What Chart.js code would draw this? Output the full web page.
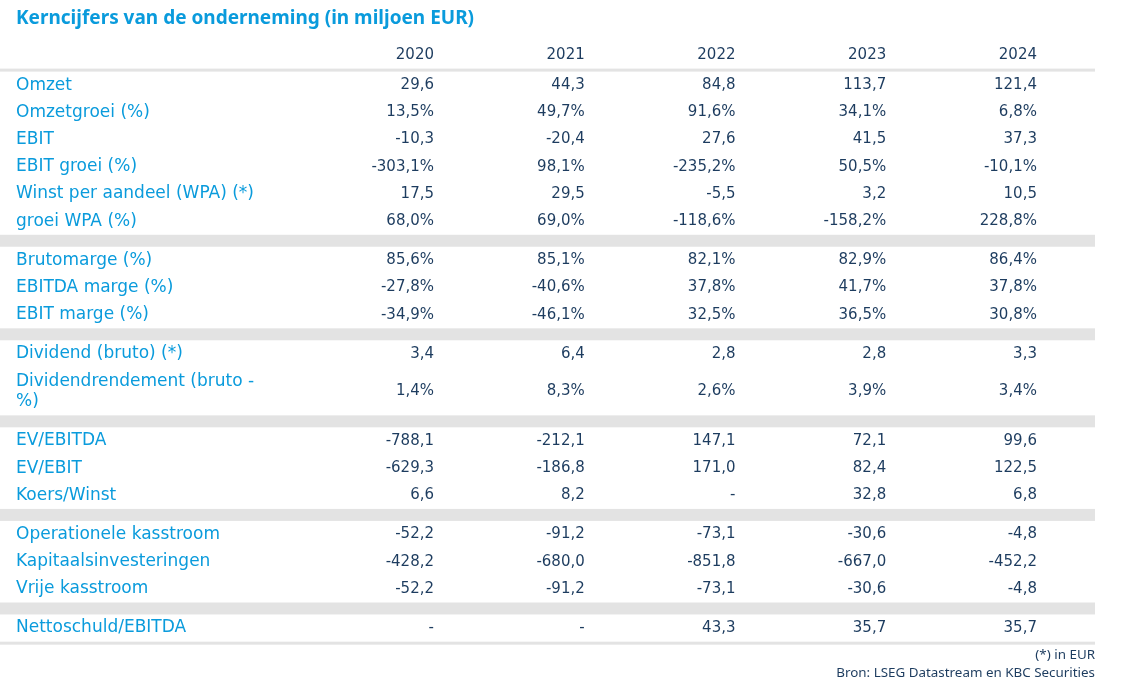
<!DOCTYPE html>
<html>
<head>
<meta charset="utf-8">
<script src="https://cdn.jsdelivr.net/npm/chart.js@4.4.1/dist/chart.umd.min.js"></script>
<style>
  html, body { margin: 0; padding: 0; background: #fff; }
  #fontwarm { position: absolute; left: -2000px; top: 0; }
  #fontwarm .t { font: bold 19px 'Noto Sans'; }
  #fontwarm .f { font: 13.4px 'Noto Sans'; }
  #fontwarm .d { font: 16px 'DejaVu Sans'; }
</style>
</head>
<body>
<canvas id="kerncijfers" width="1122" height="683"></canvas>
<div id="fontwarm"><span class="t">Kerncijfers</span><span class="f">Bron</span><span class="d">Omzet 2020</span></div>
<script>
// table content
var years = ['2020', '2021', '2022', '2023', '2024'];

var rowLabels = [
  'Omzet', 'Omzetgroei (%)', 'EBIT', 'EBIT groei (%)', 'Winst per aandeel (WPA) (*)', 'groei WPA (%)',
  'Brutomarge (%)', 'EBITDA marge (%)', 'EBIT marge (%)',
  'Dividend (bruto) (*)', 'Dividendrendement (bruto - %)',
  'EV/EBITDA', 'EV/EBIT', 'Koers/Winst',
  'Operationele kasstroom', 'Kapitaalsinvesteringen', 'Vrije kasstroom',
  'Nettoschuld/EBITDA'
];

// rows per block, blocks are split by a grey band
var sectionSizes = [6, 3, 2, 3, 3, 1];

var col2020 = ['29,6', '13,5%', '-10,3', '-303,1%', '17,5', '68,0%', '85,6%', '-27,8%', '-34,9%', '3,4', '1,4%', '-788,1', '-629,3', '6,6', '-52,2', '-428,2', '-52,2', '-'];
var col2021 = ['44,3', '49,7%', '-20,4', '98,1%', '29,5', '69,0%', '85,1%', '-40,6%', '-46,1%', '6,4', '8,3%', '-212,1', '-186,8', '8,2', '-91,2', '-680,0', '-91,2', '-'];
var col2022 = ['84,8', '91,6%', '27,6', '-235,2%', '-5,5', '-118,6%', '82,1%', '37,8%', '32,5%', '2,8', '2,6%', '147,1', '171,0', '-', '-73,1', '-851,8', '-73,1', '43,3'];
var col2023 = ['113,7', '34,1%', '41,5', '50,5%', '3,2', '-158,2%', '82,9%', '41,7%', '36,5%', '2,8', '3,9%', '72,1', '82,4', '32,8', '-30,6', '-667,0', '-30,6', '35,7'];
var col2024 = ['121,4', '6,8%', '37,3', '-10,1%', '10,5', '228,8%', '86,4%', '37,8%', '30,8%', '3,3', '3,4%', '99,6', '122,5', '6,8', '-4,8', '-452,2', '-4,8', '35,7'];

var columns = [col2020, col2021, col2022, col2023, col2024];

var BLUE = '#0a9bdc';
var NAVY = '#1d3c5f';
var GREY = '#e3e3e3';
var TITLE_FAMILY = "'Noto Sans'";
var FAMILY = "'DejaVu Sans'";
var LABEL_FONT = '17px ' + FAMILY;
var VALUE_FONT = '15px ' + FAMILY;

// row heights in "row units"
var HEADER_H = 1;
var RULE_H = 0.11;
var BAND_H = 0.44;
var LINE_EXTRA = 0.76;
var LABEL_WIDTH = 250;

// horizontal: year columns sit at 1..5 (right edge of the numbers)
var X_MIN = -1.773;
var X_MAX = 5.385;

function buildTable() {
  // wrap long labels like the source table does
  var measureCtx = document.createElement('canvas').getContext('2d');
  measureCtx.font = LABEL_FONT;
  function wrap(text, maxW) {
    var words = text.split(' ');
    var lines = [];
    var cur = '';
    words.forEach(function (w) {
      var test = cur ? cur + ' ' + w : w;
      if (cur && measureCtx.measureText(test).width > maxW) {
        lines.push(cur);
        cur = w;
      } else {
        cur = test;
      }
    });
    lines.push(cur);
    return lines;
  }
  var labelLines = rowLabels.map(function (l) { return wrap(l, LABEL_WIDTH); });

  // vertical layout
  var pos = 0;
  var headerY = pos + HEADER_H / 2;
  pos += HEADER_H;
  var rules = [[pos, pos + RULE_H]];
  pos += RULE_H;
  var bands = [];
  var rowY = [];
  var r = 0;
  sectionSizes.forEach(function (n, s) {
    if (s > 0) {
      bands.push([pos, pos + BAND_H]);
      pos += BAND_H;
    }
    for (var k = 0; k < n; k++, r++) {
      var h = 1 + (labelLines[r].length - 1) * LINE_EXTRA;
      rowY.push(pos + h / 2);
      pos += h;
    }
  });
  rules.push([pos, pos + RULE_H]);
  pos += RULE_H;
  var totalH = pos;

  var datasets = [];
  datasets.push({
    label: 'labels',
    data: rowY.map(function (y) { return { x: X_MIN, y: y }; }),
    cellText: labelLines,
    cellFont: LABEL_FONT,
    cellColor: BLUE,
    cellAlign: 'left'
  });
  datasets.push({
    label: 'header',
    data: years.map(function (yr, i) { return { x: i + 1, y: headerY }; }),
    cellText: years,
    cellFont: VALUE_FONT,
    cellColor: NAVY,
    cellAlign: 'right'
  });
  columns.forEach(function (col, i) {
    datasets.push({
      label: years[i],
      data: rowY.map(function (y) { return { x: i + 1, y: y }; }),
      cellText: col,
      cellFont: VALUE_FONT,
      cellColor: NAVY,
      cellAlign: 'right'
    });
  });
  datasets.forEach(function (d) {
    d.pointRadius = 0;
    d.pointHoverRadius = 0;
    d.showLine = false;
  });

  var bandsPlugin = {
    id: 'bands',
    beforeDatasetsDraw: function (chart) {
      var ctx = chart.ctx;
      var y = chart.scales.y;
      ctx.save();
      ctx.fillStyle = GREY;
      bands.concat(rules).forEach(function (b) {
        var top = y.getPixelForValue(b[0]);
        var bottom = y.getPixelForValue(b[1]);
        ctx.fillRect(0, top, chart.chartArea.right, bottom - top);
      });
      ctx.restore();
    }
  };

  var cellTextPlugin = {
    id: 'cellText',
    afterDatasetsDraw: function (chart) {
      var ctx = chart.ctx;
      var y = chart.scales.y;
      var lineGap = y.getPixelForValue(LINE_EXTRA) - y.getPixelForValue(0);
      ctx.save();
      ctx.textBaseline = 'middle';
      chart.data.datasets.forEach(function (ds, di) {
        var meta = chart.getDatasetMeta(di);
        ctx.font = ds.cellFont;
        ctx.fillStyle = ds.cellColor;
        ctx.textAlign = ds.cellAlign;
        meta.data.forEach(function (pt, j) {
          var t = ds.cellText[j];
          var lines = Array.isArray(t) ? t : [t];
          var y0 = pt.y - (lines.length - 1) * lineGap / 2;
          lines.forEach(function (line, k) {
            ctx.fillText(line, pt.x, y0 + k * lineGap);
          });
        });
      });
      ctx.restore();
    }
  };

  var tableCtx = document.getElementById('kerncijfers').getContext('2d');
  return new Chart(tableCtx, {
    type: 'scatter',
    data: { datasets: datasets },
    options: {
      responsive: false,
      maintainAspectRatio: false,
      animation: false,
      events: [],
      layout: {
        padding: { left: 16, right: 27, top: 0, bottom: 0 }
      },
      scales: {
        x: { type: 'linear', display: false, min: X_MIN, max: X_MAX },
        y: { type: 'linear', display: false, reverse: true, min: 0, max: totalH }
      },
      plugins: {
        legend: { display: false },
        tooltip: { enabled: false },
        title: {
          display: true,
          text: 'Kerncijfers van de onderneming (in miljoen EUR)',
          align: 'start',
          color: BLUE,
          font: { family: TITLE_FAMILY, size: 19, weight: 'bold', lineHeight: 1.2 },
          padding: { top: 7, bottom: 11.6 }
        },
        subtitle: {
          display: true,
          position: 'bottom',
          align: 'end',
          text: ['(*) in EUR', 'Bron: LSEG Datastream en KBC Securities'],
          color: NAVY,
          font: { family: TITLE_FAMILY, size: 13.4, lineHeight: 1.36 },
          padding: { top: 1.2, bottom: 0.7 }
        }
      }
    },
    plugins: [bandsPlugin, cellTextPlugin]
  });
}

var tableChart;
window.addEventListener('load', function () {
  document.fonts.ready.then(function () {
    tableChart = buildTable();
  });
});
</script>
</body>
</html>
